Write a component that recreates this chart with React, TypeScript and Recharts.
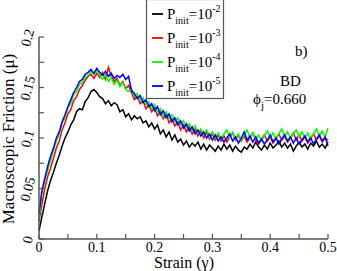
import { LineChart, Line, XAxis, YAxis } from "recharts";

const STRAIN = [
  0, 0.005, 0.01, 0.015, 0.02, 0.025, 0.03, 0.035, 0.04, 0.045,
  0.05, 0.055, 0.06, 0.065, 0.07, 0.075, 0.08, 0.085, 0.09, 0.095,
  0.1, 0.105, 0.11, 0.115, 0.12, 0.125, 0.13, 0.135, 0.14, 0.145,
  0.15, 0.155, 0.16, 0.165, 0.17, 0.175, 0.18, 0.185, 0.19, 0.195,
  0.2, 0.205, 0.21, 0.215, 0.22, 0.225, 0.23, 0.235, 0.24, 0.245,
  0.25, 0.255, 0.26, 0.265, 0.27, 0.275, 0.28, 0.285, 0.29, 0.295,
  0.3, 0.305, 0.31, 0.315, 0.32, 0.325, 0.33, 0.335, 0.34, 0.345,
  0.35, 0.355, 0.36, 0.365, 0.37, 0.375, 0.38, 0.385, 0.39, 0.395,
  0.4, 0.405, 0.41, 0.415, 0.42, 0.425, 0.43, 0.435, 0.44, 0.445,
  0.45, 0.455, 0.46, 0.465, 0.47, 0.475, 0.48, 0.485, 0.49, 0.495, 0.5,
];

// P_init = 1e-2
const P2 = [
  0.008, 0.022, 0.035, 0.048, 0.058, 0.066, 0.075, 0.083, 0.092, 0.1,
  0.106, 0.113, 0.118, 0.126, 0.129, 0.128, 0.136, 0.14, 0.146, 0.148,
  0.145, 0.141, 0.139, 0.134, 0.137, 0.132, 0.135, 0.133, 0.126, 0.128,
  0.121, 0.124, 0.118, 0.122, 0.119, 0.121, 0.115, 0.117, 0.111, 0.115,
  0.109, 0.113, 0.104, 0.108, 0.101, 0.106, 0.098, 0.103, 0.096, 0.099,
  0.093, 0.097, 0.091, 0.095, 0.092, 0.096, 0.089, 0.094, 0.088, 0.093,
  0.09, 0.087, 0.092, 0.088, 0.094, 0.089, 0.093, 0.087, 0.092, 0.088,
  0.086, 0.091, 0.089, 0.094, 0.09, 0.096, 0.091, 0.088, 0.093, 0.089,
  0.095, 0.09, 0.093, 0.097, 0.091, 0.095, 0.09, 0.094, 0.087, 0.092,
  0.096, 0.091, 0.094, 0.089, 0.095, 0.092, 0.097, 0.091, 0.094, 0.09, 0.096,
];

// P_init = 1e-3
const P3 = [
  0.018, 0.034, 0.05, 0.062, 0.07, 0.08, 0.09, 0.097, 0.108, 0.115,
  0.124, 0.128, 0.137, 0.141, 0.148, 0.152, 0.157, 0.161, 0.163, 0.159,
  0.164, 0.16, 0.165, 0.158, 0.17, 0.161, 0.156, 0.159, 0.152, 0.156,
  0.149, 0.152, 0.145, 0.138, 0.141, 0.134, 0.137, 0.129, 0.133, 0.126,
  0.13, 0.122, 0.126, 0.119, 0.124, 0.115, 0.119, 0.112, 0.116, 0.108,
  0.113, 0.106, 0.111, 0.104, 0.109, 0.102, 0.107, 0.1, 0.106, 0.099,
  0.104, 0.098, 0.103, 0.097, 0.102, 0.096, 0.101, 0.105, 0.098, 0.103,
  0.097, 0.102, 0.096, 0.1, 0.105, 0.098, 0.094, 0.099, 0.103, 0.097,
  0.101, 0.095, 0.1, 0.104, 0.098, 0.102, 0.096, 0.1, 0.105, 0.098,
  0.103, 0.097, 0.101, 0.095, 0.1, 0.104, 0.098, 0.102, 0.096, 0.1, 0.098,
];

// P_init = 1e-4
const P4 = [
  0.02, 0.045, 0.058, 0.068, 0.078, 0.088, 0.097, 0.104, 0.115, 0.12,
  0.13, 0.134, 0.143, 0.146, 0.153, 0.155, 0.16, 0.162, 0.166, 0.163,
  0.167, 0.162, 0.158, 0.163, 0.156, 0.16, 0.153, 0.157, 0.151, 0.155,
  0.148, 0.146, 0.149, 0.141, 0.144, 0.137, 0.14, 0.133, 0.136, 0.129,
  0.133, 0.125, 0.129, 0.121, 0.126, 0.119, 0.123, 0.116, 0.12, 0.113,
  0.117, 0.11, 0.114, 0.107, 0.112, 0.105, 0.109, 0.103, 0.108, 0.101,
  0.106, 0.1, 0.105, 0.099, 0.104, 0.108, 0.101, 0.106, 0.099, 0.104,
  0.098, 0.103, 0.108, 0.1, 0.105, 0.099, 0.103, 0.097, 0.102, 0.107,
  0.1, 0.105, 0.099, 0.104, 0.109, 0.101, 0.106, 0.1, 0.104, 0.108,
  0.101, 0.106, 0.1, 0.105, 0.099, 0.104, 0.109, 0.102, 0.107, 0.101, 0.11,
];

// P_init = 1e-5
const P5 = [
  0.025, 0.048, 0.06, 0.072, 0.082, 0.09, 0.1, 0.106, 0.116, 0.123,
  0.131, 0.138, 0.145, 0.15, 0.156, 0.158, 0.163, 0.165, 0.168, 0.164,
  0.169, 0.165, 0.162, 0.166, 0.161, 0.164, 0.159, 0.162, 0.16, 0.163,
  0.158, 0.161, 0.147, 0.144, 0.139, 0.142, 0.135, 0.138, 0.131, 0.134,
  0.127, 0.131, 0.123, 0.127, 0.12, 0.124, 0.116, 0.12, 0.113, 0.117,
  0.11, 0.114, 0.107, 0.111, 0.104, 0.108, 0.102, 0.106, 0.1, 0.104,
  0.098, 0.103, 0.097, 0.101, 0.096, 0.1, 0.104, 0.097, 0.101, 0.095,
  0.1, 0.106, 0.098, 0.102, 0.096, 0.101, 0.095, 0.099, 0.094, 0.098,
  0.103, 0.096, 0.1, 0.094, 0.099, 0.103, 0.097, 0.101, 0.095, 0.1,
  0.094, 0.098, 0.102, 0.096, 0.1, 0.094, 0.099, 0.103, 0.097, 0.101, 0.092,
];

const SERIES = [
  { key: "p2", exp: "-2", color: "#000000", values: P2 },
  { key: "p3", exp: "-3", color: "#ff0000", values: P3 },
  { key: "p4", exp: "-4", color: "#00ff00", values: P4 },
  { key: "p5", exp: "-5", color: "#0000ff", values: P5 },
];

const X_TICKS = [0, 0.05, 0.1, 0.15, 0.2, 0.25, 0.3, 0.35, 0.4, 0.45, 0.5];
const Y_TICKS = [0, 0.025, 0.05, 0.075, 0.1, 0.125, 0.15, 0.175, 0.2];

const data = STRAIN.map((s, i) => {
  const row: any = { strain: s };
  SERIES.forEach((sr) => (row[sr.key] = sr.values[i]));
  return row;
});

const FONT = "Liberation Serif";
const AXIS = "#555555";

const fmt = (v: number) => String(Number(v.toFixed(3)));

const BottomTick = ({ x, y, payload }: any) => {
  const v = payload.value;
  const major = Math.round(v * 100) % 10 === 0;
  return (
    <g>
      <line x1={x} x2={x} y1={y} y2={y - 5} stroke={AXIS} strokeWidth={1.2} />
      {major && (
        <text x={x} y={y + 13} textAnchor="middle" fontSize={14} fontFamily={FONT} fill="#000">
          {fmt(v)}
        </text>
      )}
    </g>
  );
};

const TopTick = ({ x, y }: any) => (
  <line x1={x} x2={x} y1={y} y2={y + 5} stroke={AXIS} strokeWidth={1.2} />
);

const LeftTick = ({ x, y, payload }: any) => {
  const v = payload.value;
  const major = Math.round(v * 1000) % 50 === 0;
  return (
    <g>
      <line x1={x} x2={x + 5} y1={y} y2={y} stroke={AXIS} strokeWidth={1.2} />
      {major && (
        <text
          x={x - 10}
          y={y + 1}
          textAnchor="middle"
          dominantBaseline="middle"
          fontSize={14}
          fontFamily={FONT}
          fill="#000"
          transform={`rotate(-75 ${x - 10} ${y + 1})`}
        >
          {fmt(v)}
        </text>
      )}
    </g>
  );
};

const RightTick = ({ x, y }: any) => (
  <line x1={x} x2={x - 5} y1={y} y2={y} stroke={AXIS} strokeWidth={1.2} />
);

export default function App() {
  return (
    <div style={{ position: "absolute", left: 0, top: 0, width: 337, height: 271, background: "#fff" }}>
      <LineChart
        width={337}
        height={271}
        data={data}
        margin={{ top: 37, right: 9, bottom: 0, left: 0 }}
      >
        <XAxis
          dataKey="strain"
          type="number"
          domain={[0, 0.5]}
          ticks={X_TICKS}
          interval={0}
          height={32}
          tickSize={0}
          tickMargin={0}
          tickLine={false}
          axisLine={{ stroke: AXIS, strokeWidth: 1.5 }}
          tick={<BottomTick />}
        />
        <XAxis
          xAxisId="top"
          orientation="top"
          dataKey="strain"
          type="number"
          domain={[0, 0.5]}
          ticks={X_TICKS}
          interval={0}
          height={0}
          tickSize={0}
          tickMargin={0}
          tickLine={false}
          axisLine={{ stroke: AXIS, strokeWidth: 1.5 }}
          tick={<TopTick />}
        />
        <YAxis
          type="number"
          domain={[0, 0.2]}
          ticks={Y_TICKS}
          interval={0}
          width={39}
          tickSize={0}
          tickMargin={0}
          tickLine={false}
          axisLine={{ stroke: AXIS, strokeWidth: 1.5 }}
          tick={<LeftTick />}
        />
        <YAxis
          yAxisId="right"
          orientation="right"
          type="number"
          domain={[0, 0.2]}
          ticks={Y_TICKS}
          interval={0}
          width={0}
          tickSize={0}
          tickMargin={0}
          tickLine={false}
          axisLine={{ stroke: AXIS, strokeWidth: 1.5 }}
          tick={<RightTick />}
        />
        {SERIES.map((s) => (
          <Line
            key={s.key}
            dataKey={s.key}
            stroke={s.color}
            strokeWidth={1.5}
            dot={false}
            isAnimationActive={false}
            type="linear"
          />
        ))}
      </LineChart>
      <svg
        width={337}
        height={271}
        style={{ position: "absolute", left: 0, top: 0, pointerEvents: "none" }}
        fontFamily={FONT}
      >
        <text
          x={14}
          y={139}
          textAnchor="middle"
          fontSize={17}
          transform="rotate(-90 14 139)"
        >
          Macroscopic Friction (μ)
        </text>
        <text x={184} y={268} textAnchor="middle" fontSize={16}>
          Strain (γ)
        </text>
        <text x={295} y={56} fontSize={15}>b)</text>
        <text x={280} y={86} fontSize={15}>BD</text>
        <text x={253} y={104} fontSize={15}>
          ϕ<tspan fontSize={11} dy={5}>j</tspan>
          <tspan dy={-5}>=0.660</tspan>
        </text>
        <g transform="translate(146,-1)">
          <rect x={0.5} y={0.5} width={77} height={99} fill="#fff" stroke={AXIS} strokeWidth={1.2} />
          {SERIES.map((s, i) => {
            const cy = 15 + i * 24;
            return (
              <g key={s.key} fill="#000">
                <line x1={6} x2={17} y1={cy} y2={cy} stroke={s.color} strokeWidth={1.8} />
                <text x={21} y={cy + 5} fontSize={15}>
                  P
                  <tspan fontSize={10} dy={5}>init</tspan>
                  <tspan fontSize={15} dy={-5}>=10</tspan>
                  <tspan fontSize={10} dy={-7}>{s.exp}</tspan>
                </text>
              </g>
            );
          })}
        </g>
      </svg>
    </div>
  );
}
